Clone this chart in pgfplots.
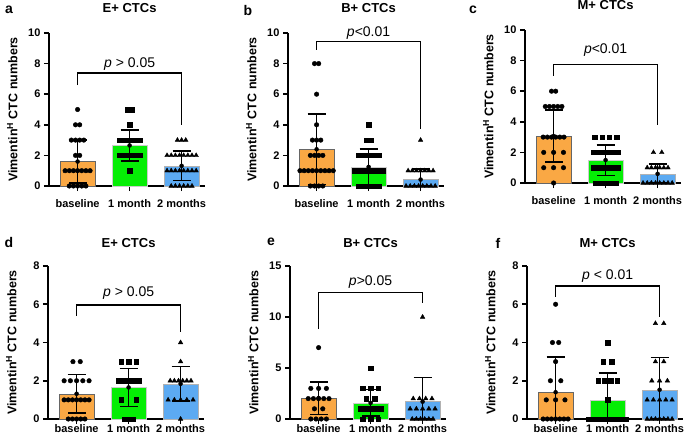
\documentclass[border=0pt]{standalone}
\usepackage{pgfplots}
\pgfplotsset{compat=1.18}
\usepackage{fontspec}
\setmainfont{Liberation Sans}
\definecolor{cOr}{RGB}{250,168,68}
\definecolor{cGr}{RGB}{5,238,5}
\definecolor{cBl}{RGB}{92,170,242}
\pgfplotsset{
 panel/.style={
   scale only axis, width=156pt, height=153pt, anchor=south west,
   xmin=-0.55, xmax=2.45, ymin=0,
   axis lines=left, axis line style={line width=1.6pt, -},
   xtick={0,1,2}, xticklabels={baseline,1 month,2 months},
   major x tick style={line width=1.4pt, black},
   tick align=outside, major tick length=5pt,
   major y tick style={line width=1.6pt, black},
   tick label style={font=\bfseries\fontsize{11}{12}\selectfont},
   /pgf/number format/assume math mode=true,
   ylabel={Vimentin\textsuperscript{H} CTC numbers},
   ylabel style={font=\bfseries\fontsize{12.5}{13}\selectfont, at={(axis description cs:-0.235,0.5)}, anchor=center},
   clip=false,
 },
 toprow/.style={xticklabel style={yshift=-5pt}},
 botrow/.style={xticklabel style={yshift=3pt}},
 barO/.style={ybar, bar shift=0pt, bar width=35pt, fill=cOr, draw=black!60},
 barG/.style={ybar, bar shift=0pt, bar width=35pt, fill=cGr, draw=gray!40},
 barB/.style={ybar, bar shift=0pt, bar width=35pt, fill=cBl, draw=gray!60},
 dC/.style={only marks, mark=*, mark size=2.3pt, black},
 dS/.style={only marks, mark=square*, mark size=2.2pt, black},
 dT/.style={only marks, mark=triangle*, mark size=2.6pt, black},
 eb/.style={only marks, mark=none, error bars/.cd, y dir=both, y explicit,
   error bar style={line width=1.6pt, black},
   error mark options={rotate=90, mark size=9pt, line width=1.6pt, black}},
 brk/.style={black, line width=1.6pt, mark=none},
}
\newcommand{\ptxt}{\fontsize{14}{15}\selectfont}
\newcommand{\ttl}{\bfseries\fontsize{13}{14}\selectfont}
\begin{document}
\begin{tikzpicture}
\path[use as bounding box] (0,0) rectangle (685pt,440pt);
% ---------- a ----------
\begin{axis}[panel, toprow, at={(49pt,254pt)}, ymax=10, ytick={0,2,4,6,8,10}]
\addplot[barO] coordinates {(0,1.6)};
\addplot[barG] coordinates {(1,2.65)};
\addplot[barB] coordinates {(2,1.32)};
\addplot[eb] coordinates {(0,1.6) +- (0,1.4) (1,2.65) +- (0,1.0) (2,1.32) +- (0,0.97)};
\addplot[dC] coordinates {(0,5) (-.04,4)(.04,4) (-.12,3)(-.04,3)(.04,3)(.12,3) (-.04,2)(.04,2) (-.24,1)(-.16,1)(-.08,1)(0,1)(.08,1)(.16,1)(.24,1) (-.16,0)(-.08,0)(0,0)(.08,0)(.16,0)};
\addplot[dS] coordinates {(.96,5)(1.04,5) (1,4) (.8,3)(.88,3)(.96,3)(1.04,3)(1.12,3)(1.2,3) (.8,2)(.88,2)(.96,2)(1.04,2)(1.12,2)(1.2,2) (1,1)};
\addplot[dT] coordinates {(1.92,3)(2,3)(2.08,3) (1.72,2)(1.8,2)(1.88,2)(1.96,2)(2.04,2)(2.12,2)(2.2,2)(2.28,2) (1.72,1)(1.8,1)(1.88,1)(1.96,1)(2.04,1)(2.12,1)(2.2,1)(2.28,1) (1.8,0)(1.88,0)(1.96,0)(2.04,0)(2.12,0)(2.2,0)};
\addplot[brk] coordinates {(0,6.6) (0,7.4) (2,7.4) (2,4.0)};
\node[font=\ptxt] at (axis cs:1,8.0) {\textit{p} > 0.05};
\node[font=\ttl] at (axis cs:1,10) [yshift=25pt] {E+ CTCs};
\end{axis}
% ---------- b ----------
\begin{axis}[panel, toprow, at={(288pt,254pt)}, ymax=10, ytick={0,2,4,6,8,10}]
\addplot[barO] coordinates {(0,2.4)};
\addplot[barG] coordinates {(1,1.25)};
\addplot[barB] coordinates {(2,0.42)};
\addplot[eb] coordinates {(0,2.4) +- (0,2.3) (1,1.25) +- (0,1.15) (2,0.42) += (0,0.7) -= (0,0.42)};
\addplot[dC] coordinates {(-.04,8)(.04,8) (0,6) (0,4) (-.08,3)(0,3)(.08,3) (-.12,2)(-.04,2)(.04,2)(.12,2) (-.32,1)(-.24,1)(-.16,1)(-.08,1)(0,1)(.08,1)(.16,1)(.24,1)(.32,1) (-.12,0)(-.04,0)(.04,0)(.12,0)};
\addplot[dS] coordinates {(1,4) (.96,3)(1.04,3) (.8,2)(.88,2)(.96,2)(1.04,2)(1.12,2)(1.2,2) (.72,1)(.8,1)(.88,1)(.96,1)(1.04,1)(1.12,1)(1.2,1)(1.28,1) (.8,0)(.88,0)(.96,0)(1.04,0)(1.12,0)(1.2,0)};
\addplot[dT] coordinates {(2,3) (1.76,1)(1.84,1)(1.92,1)(2,1)(2.08,1)(2.16,1)(2.24,1) (1.72,0)(1.8,0)(1.88,0)(1.96,0)(2.04,0)(2.12,0)(2.2,0)(2.28,0)};
\addplot[brk] coordinates {(0,8.9) (0,9.45) (2,9.45) (2,3.75)};
\node[font=\ptxt] at (axis cs:1,10.0) {\textit{p}<0.01};
\node[font=\ttl] at (axis cs:1,10) [yshift=25pt] {B+ CTCs};
\end{axis}
% ---------- c ----------
\begin{axis}[panel, toprow, at={(525pt,257pt)}, ymax=10, ytick={0,2,4,6,8,10}]
\addplot[barO] coordinates {(0,3.07)};
\addplot[barG] coordinates {(1,1.5)};
\addplot[barB] coordinates {(2,0.6)};
\addplot[eb] coordinates {(0,3.07) +- (0,1.7) (1,1.5) +- (0,1.0) (2,0.6) += (0,0.65) -= (0,0.6)};
\addplot[dC] coordinates {(-.04,6)(.04,6) (-.16,5)(-.08,5)(0,5)(.08,5)(.16,5) (-.2,3)(-.12,3)(-.04,3)(.04,3)(.12,3)(.2,3) (-.19,2)(0,2)(.19,2) (-.19,1)(0,1)(.19,1) (0,0)};
\addplot[dS] coordinates {(.79,3)(.93,3)(1.07,3)(1.21,3) (.76,2)(.84,2)(.92,2)(1,2)(1.08,2)(1.16,2)(1.24,2) (.76,1)(.84,1)(.92,1)(1,1)(1.08,1)(1.16,1)(1.24,1) (.8,0)(.88,0)(.96,0)(1.04,0)(1.12,0)(1.2,0)};
\addplot[dT] coordinates {(1.92,2)(2.08,2) (1.8,1)(1.88,1)(1.96,1)(2.04,1)(2.12,1)(2.2,1) (1.72,0)(1.8,0)(1.88,0)(1.96,0)(2.04,0)(2.12,0)(2.2,0)(2.28,0)};
\addplot[brk] coordinates {(0,7.0) (0,7.75) (2,7.75) (2,3.8)};
\node[font=\ptxt] at (axis cs:1,8.7) {\textit{p}<0.01};
\node[font=\ttl] at (axis cs:1,10) [yshift=25pt] {M+ CTCs};
\end{axis}
% ---------- d ----------
\begin{axis}[panel, botrow, at={(48pt,21pt)}, ymax=8, ytick={0,2,4,6,8}]
\addplot[barO] coordinates {(0,1.32)};
\addplot[barG] coordinates {(1,1.65)};
\addplot[barB] coordinates {(2,1.84)};
\addplot[eb] coordinates {(0,1.32) +- (0,1.0) (1,1.65) +- (0,1.0) (2,1.84) +- (0,0.9)};
\addplot[dC] coordinates {(-.07,3)(.07,3) (-.24,2)(-.12,2)(0,2)(.12,2)(.24,2) (-.24,1)(-.16,1)(-.08,1)(0,1)(.08,1)(.16,1)(.24,1) (-.16,0)(-.08,0)(0,0)(.08,0)(.16,0)};
\addplot[dS] coordinates {(.855,3)(1,3)(1.145,3) (.8,2)(.88,2)(.96,2)(1.04,2)(1.12,2)(1.2,2) (.855,1)(1.145,1) (.92,0)(1,0)(1.08,0)};
\addplot[dT] coordinates {(2,4) (2,3) (1.8,2)(1.88,2)(1.96,2)(2.04,2)(2.12,2)(2.2,2) (1.76,1)(1.88,1)(2,1)(2.12,1)(2.24,1) (2,0)};
\addplot[brk] coordinates {(0,5.4) (0,5.95) (2,5.95) (2,4.55)};
\node[font=\ptxt] at (axis cs:1,6.6) {\textit{p} > 0.05};
\node[font=\ttl] at (axis cs:1,8) [yshift=23pt] {E+ CTCs};
\end{axis}
% ---------- e ----------
\begin{axis}[panel, botrow, at={(290pt,21pt)}, ymax=15, ytick={0,5,10,15}]
\addplot[barO] coordinates {(0,2.05)};
\addplot[barG] coordinates {(1,1.58)};
\addplot[barB] coordinates {(2,1.7)};
\addplot[eb] coordinates {(0,2.05) +- (0,1.6) (1,1.58) +- (0,1.3) (2,1.7) += (0,2.35) -= (0,1.7)};
\addplot[dC] coordinates {(0,7) (-.15,3)(0,3)(.15,3) (-.2,2)(-.1,2)(0,2)(.1,2)(.2,2) (-.08,1)(.08,1) (-.15,0)(-.05,0)(.05,0)(.15,0)};
\addplot[dS] coordinates {(1,5) (.85,3)(1,3)(1.15,3) (.92,2)(1.08,2) (.8,1)(.88,1)(.96,1)(1.04,1)(1.12,1)(1.2,1) (.85,0)(1,0)(1.15,0)};
\addplot[dT] coordinates {(2,10) (1.82,2)(1.94,2)(2.06,2)(2.18,2) (1.76,1)(1.88,1)(2,1)(2.12,1)(2.24,1) (1.8,0)(1.88,0)(1.96,0)(2.04,0)(2.12,0)(2.2,0)};
\addplot[brk] coordinates {(0,8.8) (0,12.4) (2,12.4) (2,11.4)};
\node[font=\ptxt] at (axis cs:1,13.4) {\textit{p}>0.05};
\node[font=\ttl] at (axis cs:1,15) [yshift=23pt] {B+ CTCs};
\end{axis}
% ---------- f ----------
\begin{axis}[panel, botrow, at={(527pt,21pt)}, ymax=8, ytick={0,2,4,6,8}]
\addplot[barO] coordinates {(0,1.4)};
\addplot[barG] coordinates {(1,1.0)};
\addplot[barB] coordinates {(2,1.53)};
\addplot[eb] coordinates {(0,1.4) += (0,1.85) -= (0,1.4) (1,1.0) += (0,1.4) -= (0,1.0) (2,1.53) += (0,1.68) -= (0,1.53)};
\addplot[dC] coordinates {(0,6) (-.06,4)(.06,4) (0,3) (-.1,2)(.1,2) (-.18,1)(0,1)(.18,1) (-.24,0)(-.16,0)(-.08,0)(0,0)(.08,0)(.16,0)(.24,0)};
\addplot[dS] coordinates {(1,4) (.92,3)(1.08,3) (.82,2)(.94,2)(1.06,2)(1.18,2) (1,1) (.64,0)(.72,0)(.8,0)(.88,0)(.96,0)(1.04,0)(1.12,0)(1.2,0)(1.28,0)(1.36,0)};
\addplot[dT] coordinates {(1.92,5)(2.08,5) (1.92,3)(2.08,3) (1.85,2)(2,2)(2.15,2) (1.76,1)(1.88,1)(2,1)(2.12,1)(2.24,1) (1.76,0)(1.84,0)(1.92,0)(2,0)(2.08,0)(2.16,0)(2.24,0)};
\addplot[brk] coordinates {(0,6.4) (0,6.96) (2,6.96) (2,5.35)};
\node[font=\ptxt] at (axis cs:1,7.5) {\textit{p} < 0.01};
\node[font=\ttl] at (axis cs:1,8) [yshift=23pt] {M+ CTCs};
\end{axis}
% panel letters
\node[font=\bfseries\fontsize{14}{15}\selectfont] at (9pt,430pt) {a};
\node[font=\bfseries\fontsize{14}{15}\selectfont] at (248pt,430pt) {b};
\node[font=\bfseries\fontsize{14}{15}\selectfont] at (473pt,430pt) {c};
\node[font=\bfseries\fontsize{14}{15}\selectfont] at (9pt,198pt) {d};
\node[font=\bfseries\fontsize{14}{15}\selectfont] at (271pt,198pt) {e};
\node[font=\bfseries\fontsize{14}{15}\selectfont] at (498pt,197pt) {f};
\end{tikzpicture}
\end{document}
